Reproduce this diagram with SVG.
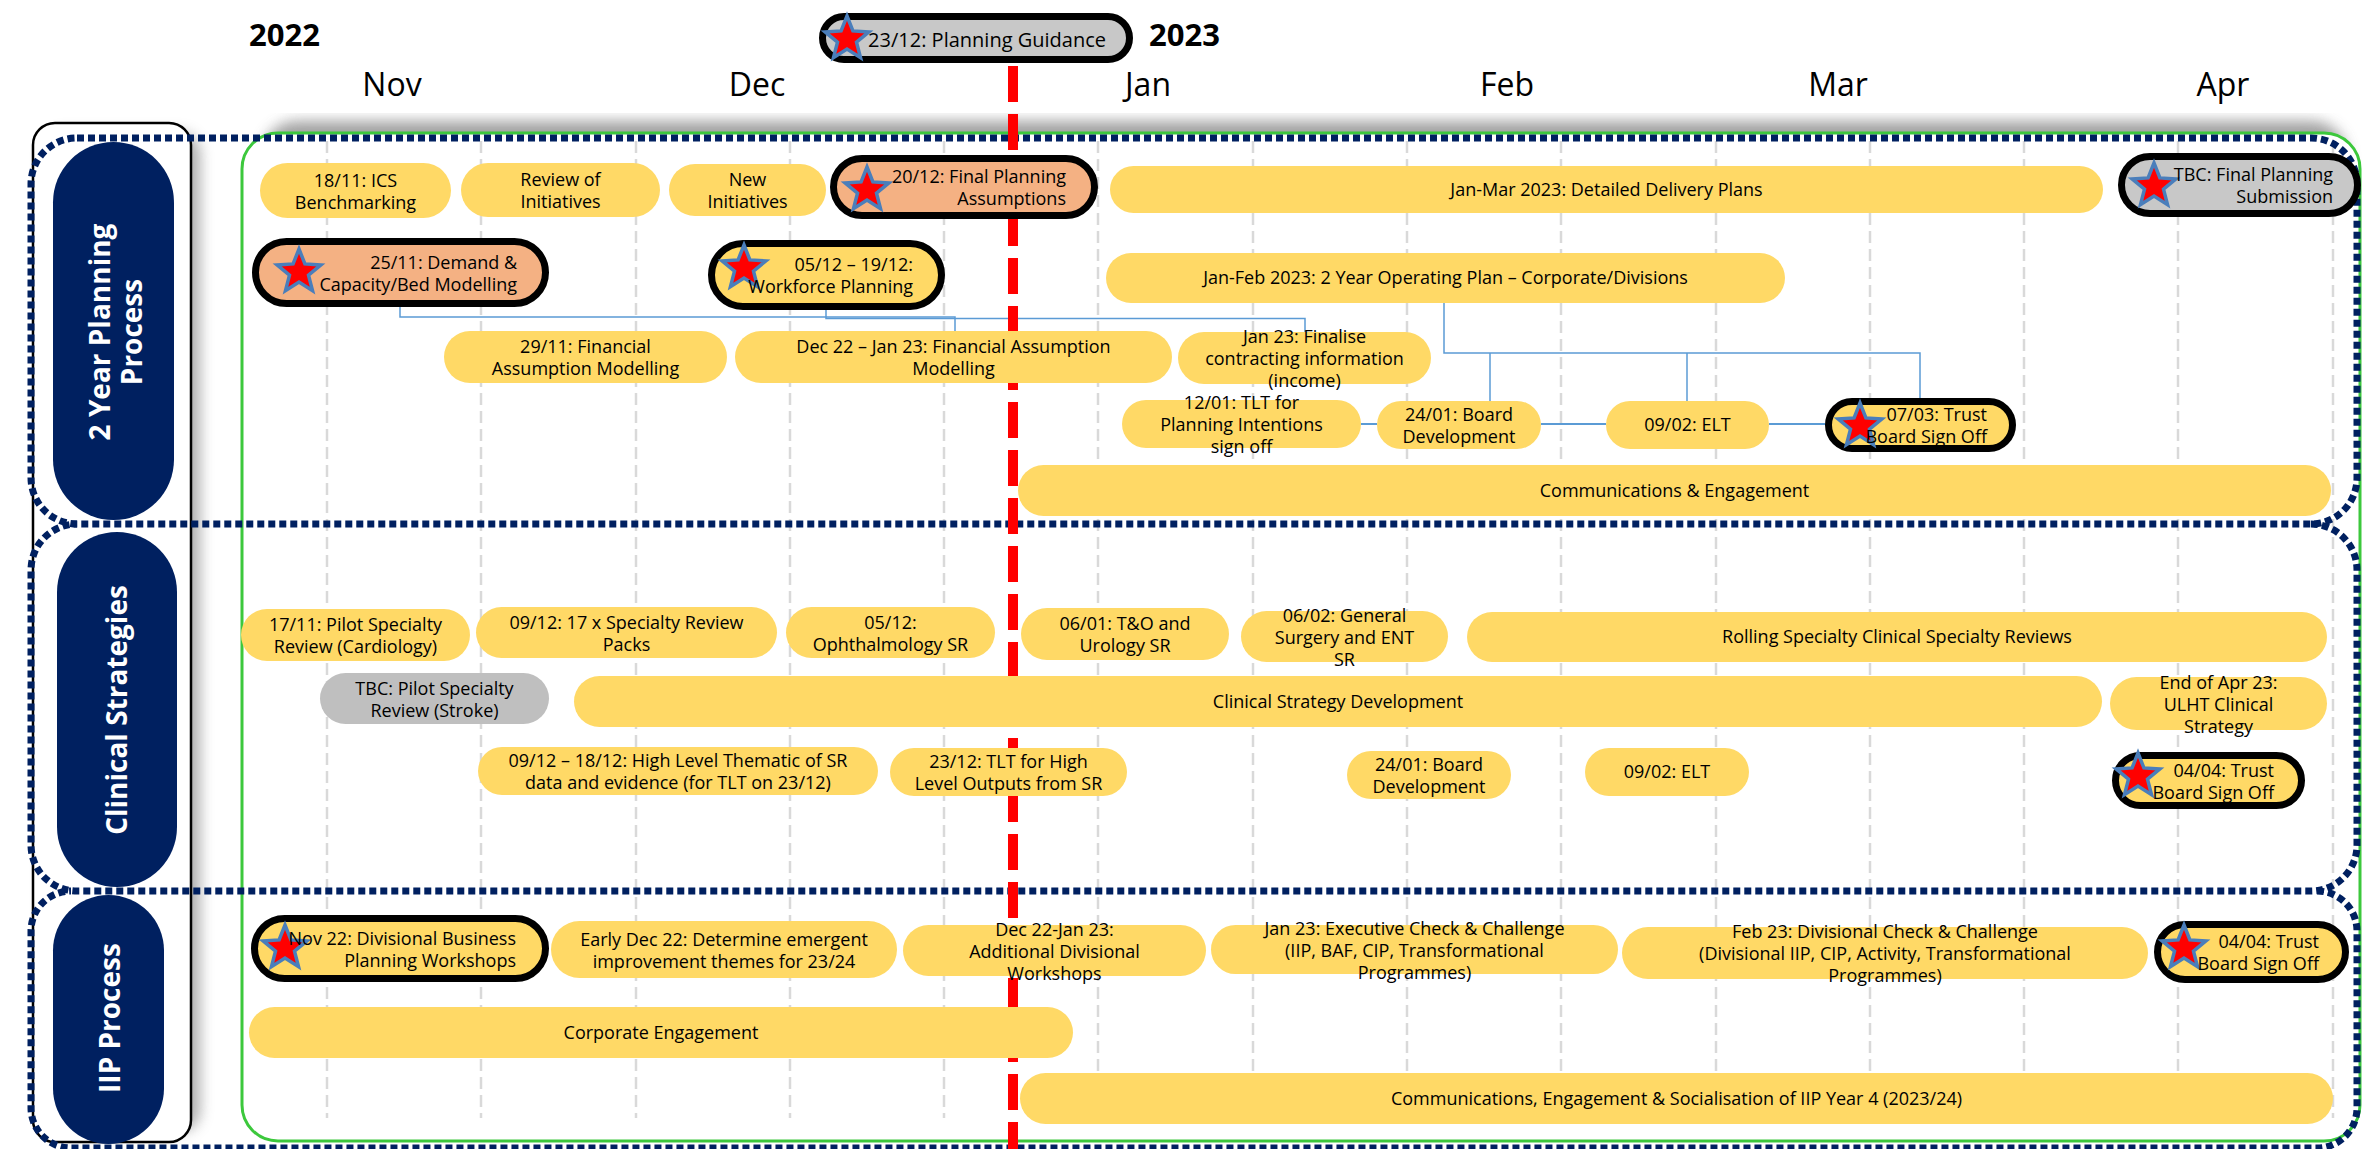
<svg xmlns="http://www.w3.org/2000/svg" xmlns:xlink="http://www.w3.org/1999/xlink" width="2364" height="1149" viewBox="0 0 2364 1149">
<defs>
<style>
.y{fill:#FFD966}
.g{fill:#BFBFBF}
.ys{fill:#FFD966;stroke:#000;stroke-width:7}
.os{fill:#F4B183;stroke:#000;stroke-width:7}
.gs{fill:#C8C8C8;stroke:#000;stroke-width:7}
.t{font-family:"Open Sans","Noto Sans",sans-serif;font-size:18px;fill:#000;text-anchor:middle}
.r{text-anchor:end}
.m{font-family:"Open Sans","Noto Sans",sans-serif;font-size:32px;fill:#000;text-anchor:middle}
.yr{font-family:"Open Sans","Noto Sans",sans-serif;font-size:31px;font-weight:bold;fill:#000}
.lbl{font-family:"Open Sans","Noto Sans",sans-serif;font-size:28px;font-weight:bold;fill:#fff;text-anchor:middle}
.pill{fill:#002060}
.sec{fill:none;stroke:#002060;stroke-width:7;stroke-dasharray:7 4}
.grid{stroke:#D9D9D9;stroke-width:2.5;stroke-dasharray:12 6}
.c{fill:none;stroke:#5B9BD5;stroke-width:1.5}
.c2{fill:none;stroke:#5B9BD5;stroke-width:2}
</style>
<path id="star" d="M0,-23 L5.9,-8.1 L21.87,-7.11 L9.5,3.1 L13.52,18.61 L0,10 L-13.52,18.61 L-9.5,3.1 L-21.87,-7.11 L-5.9,-8.1 Z" fill="#FF0000" stroke="#4A7EBB" stroke-width="3.5" stroke-linejoin="miter"/>
<filter id="blur" x="-10%" y="-10%" width="120%" height="120%"><feGaussianBlur stdDeviation="7"/></filter>
</defs>
<rect x="0" y="0" width="2364" height="1149" fill="#fff"/>

<g id="background">
<rect x="262" y="121" width="2085" height="80" rx="35" fill="#8a8a8a" opacity="0.8" filter="url(#blur)"/>
<rect x="44" y="132" width="156" height="1000" rx="22" fill="#8a8a8a" opacity="0.7" filter="url(#blur)"/>
<rect x="33" y="123" width="158" height="1019" rx="22" fill="#fff" stroke="#000" stroke-width="2.5"/>
<rect x="242" y="133" width="2118" height="1008" rx="36" fill="#fff" stroke="#3CC83C" stroke-width="3"/>
</g>

<g id="gridlines">
<line class="grid" x1="327" y1="141" x2="327" y2="1118"/>
<line class="grid" x1="481" y1="141" x2="481" y2="1118"/>
<line class="grid" x1="636" y1="141" x2="636" y2="1118"/>
<line class="grid" x1="790" y1="141" x2="790" y2="1118"/>
<line class="grid" x1="944" y1="141" x2="944" y2="1118"/>
<line class="grid" x1="1098" y1="141" x2="1098" y2="1118"/>
<line class="grid" x1="1253" y1="141" x2="1253" y2="1118"/>
<line class="grid" x1="1407" y1="141" x2="1407" y2="1118"/>
<line class="grid" x1="1561" y1="141" x2="1561" y2="1118"/>
<line class="grid" x1="1716" y1="141" x2="1716" y2="1118"/>
<line class="grid" x1="1870" y1="141" x2="1870" y2="1118"/>
<line class="grid" x1="2024" y1="141" x2="2024" y2="1118"/>
<line class="grid" x1="2178" y1="141" x2="2178" y2="1118"/>
<line class="grid" x1="2333" y1="141" x2="2333" y2="1118"/>
</g>

<g id="sections">
<rect class="sec" x="31" y="138" width="2326" height="386" rx="46"/>
<path class="sec" d="M2311,524 A46,46 0 0 1 2357,570 V845 A46,46 0 0 1 2311,891 H77 A46,46 0 0 1 31,845 V570 A46,46 0 0 1 77,524"/>
<path class="sec" d="M2317,891 A40,40 0 0 1 2357,931 V1108 A40,40 0 0 1 2317,1148 H71 A40,40 0 0 1 31,1108 V931 A40,40 0 0 1 71,891"/>
</g>

<g id="lane-2yr">
<rect class="pill" x="53" y="142" width="121" height="378" rx="60.5"/>
<text class="lbl" transform="translate(100,332) rotate(-90)" y="10">2 Year Planning</text>
<text class="lbl" transform="translate(132,332) rotate(-90)" y="10">Process</text>
</g>
<g id="lane-clinical">
<rect class="pill" x="57" y="532" width="120" height="355" rx="60"/>
<text class="lbl" transform="translate(117,710) rotate(-90)" y="10">Clinical Strategies</text>
</g>
<g id="lane-iip">
<rect class="pill" x="53" y="895" width="111" height="249" rx="55.5"/>
<text class="lbl" transform="translate(110,1018) rotate(-90)" y="10">IIP Process</text>
</g>

<g id="connectors">
<path class="c" d="M400,307 V317 H955 V331"/>
<path class="c" d="M826,310 V318.5 H1305 V332"/>
<path class="c" d="M1444,303 V353 H1920 V398"/>
<path class="c" d="M1490,353 V401"/>
<path class="c" d="M1687,353 V401"/>
<path class="c2" d="M1361,424 H1377"/>
<path class="c2" d="M1541,424 H1606"/>
<path class="c2" d="M1769,424 H1825"/>
</g>

<g id="today-line">
<line x1="1013" y1="66" x2="1013" y2="1149" stroke="#FF0000" stroke-width="10" stroke-dasharray="36 12"/>
</g>

<g id="header">
<text class="yr" x="249" y="46">2022</text>
<text class="yr" x="1149" y="46">2023</text>
<text class="m" x="392" y="96">Nov</text>
<text class="m" x="757" y="96">Dec</text>
<text class="m" x="1148" y="96">Jan</text>
<text class="m" x="1507" y="96">Feb</text>
<text class="m" x="1838" y="96">Mar</text>
<text class="m" x="2223" y="96">Apr</text>
</g>
<g id="planning-guidance">
<rect class="gs" x="822.5" y="16.5" width="307" height="43" rx="21.5"/>
<use href="#star" x="847" y="39"/>
<text class="t r" x="1106" y="47" style="font-size:20px">23/12: Planning Guidance</text>
</g>

<g id="n1"><rect class="y" x="260" y="163" width="191" height="55" rx="27.5"/><text class="t" x="355.5" y="186.5">18/11: ICS</text><text class="t" x="355.5" y="208.5">Benchmarking</text></g>
<g id="n2"><rect class="y" x="461" y="163" width="199" height="54" rx="27"/><text class="t" x="560.5" y="186">Review of</text><text class="t" x="560.5" y="208">Initiatives</text></g>
<g id="n3"><rect class="y" x="669" y="164" width="157" height="52" rx="26"/><text class="t" x="747.5" y="186">New</text><text class="t" x="747.5" y="208">Initiatives</text></g>
<g id="n4"><rect class="os" x="833.5" y="158.5" width="261" height="57" rx="28.5"/><use href="#star" x="867" y="190"/><text class="t r" x="1066" y="183">20/12: Final Planning</text><text class="t r" x="1066" y="205">Assumptions</text></g>
<g id="n5"><rect class="y" x="1110" y="166" width="993" height="47" rx="23.5"/><text class="t" x="1606.5" y="195.5">Jan-Mar 2023: Detailed Delivery Plans</text></g>
<g id="n6"><rect class="gs" x="2121.5" y="156.5" width="236" height="57" rx="28.5"/><use href="#star" x="2154" y="186"/><text class="t r" x="2333" y="181">TBC: Final Planning</text><text class="t r" x="2333" y="203">Submission</text></g>
<g id="n7"><rect class="os" x="255.5" y="241.5" width="290" height="62" rx="31"/><use href="#star" x="299" y="272"/><text class="t r" x="517" y="269">25/11: Demand &amp;</text><text class="t r" x="517" y="291">Capacity/Bed Modelling</text></g>
<g id="n8"><rect class="ys" x="711.5" y="243.5" width="230" height="63" rx="31.5"/><use href="#star" x="744" y="268"/><text class="t r" x="913" y="271">05/12 – 19/12:</text><text class="t r" x="913" y="293">Workforce Planning</text></g>
<g id="n9"><rect class="y" x="1106" y="253" width="679" height="50" rx="25"/><text class="t" x="1445.5" y="284">Jan-Feb 2023: 2 Year Operating Plan – Corporate/Divisions</text></g>
<g id="n10"><rect class="y" x="444" y="331" width="283" height="52" rx="26"/><text class="t" x="585.5" y="353">29/11: Financial</text><text class="t" x="585.5" y="375">Assumption Modelling</text></g>
<g id="n11"><rect class="y" x="735" y="331" width="437" height="52" rx="26"/><text class="t" x="953.5" y="353">Dec 22 – Jan 23: Financial Assumption</text><text class="t" x="953.5" y="375">Modelling</text></g>
<g id="n12"><rect class="y" x="1178" y="332" width="253" height="52" rx="26"/><text class="t" x="1304.5" y="343">Jan 23: Finalise</text><text class="t" x="1304.5" y="365">contracting information</text><text class="t" x="1304.5" y="387">(income)</text></g>
<g id="n13"><rect class="y" x="1122" y="400" width="239" height="48" rx="24"/><text class="t" x="1241.5" y="409">12/01: TLT for</text><text class="t" x="1241.5" y="431">Planning Intentions</text><text class="t" x="1241.5" y="453">sign off</text></g>
<g id="n14"><rect class="y" x="1377" y="401" width="164" height="48" rx="24"/><text class="t" x="1459" y="421">24/01: Board</text><text class="t" x="1459" y="443">Development</text></g>
<g id="n15"><rect class="y" x="1606" y="401" width="163" height="48" rx="24"/><text class="t" x="1687.5" y="431">09/02: ELT</text></g>
<g id="n16"><rect class="ys" x="1828.5" y="401.5" width="184" height="47" rx="23.5"/><use href="#star" x="1860" y="426"/><text class="t r" x="1987" y="421">07/03: Trust</text><text class="t r" x="1987" y="443">Board Sign Off</text></g>
<g id="n17"><rect class="y" x="1018" y="465" width="1313" height="51" rx="25.5"/><text class="t" x="1674.5" y="497">Communications &amp; Engagement</text></g>

<g id="n18"><rect class="y" x="241" y="609" width="229" height="52" rx="26"/><text class="t" x="355.5" y="631">17/11: Pilot Specialty</text><text class="t" x="355.5" y="653">Review (Cardiology)</text></g>
<g id="n19"><rect class="y" x="476" y="607" width="301" height="51" rx="25.5"/><text class="t" x="626.5" y="628.5">09/12: 17 x Specialty Review</text><text class="t" x="626.5" y="650.5">Packs</text></g>
<g id="n20"><rect class="y" x="786" y="607" width="209" height="51" rx="25.5"/><text class="t" x="890.5" y="628.5">05/12:</text><text class="t" x="890.5" y="650.5">Ophthalmology SR</text></g>
<g id="n21"><rect class="y" x="1021" y="608" width="208" height="52" rx="26"/><text class="t" x="1125" y="630">06/01: T&amp;O and</text><text class="t" x="1125" y="652">Urology SR</text></g>
<g id="n22"><rect class="y" x="1241" y="611" width="207" height="51" rx="25.5"/><text class="t" x="1344.5" y="621.5">06/02: General</text><text class="t" x="1344.5" y="643.5">Surgery and ENT</text><text class="t" x="1344.5" y="665.5">SR</text></g>
<g id="n23"><rect class="y" x="1467" y="612" width="860" height="50" rx="25"/><text class="t" x="1897" y="643">Rolling Specialty Clinical Specialty Reviews</text></g>
<g id="n24"><rect class="g" x="320" y="673" width="229" height="51" rx="25.5"/><text class="t" x="434.5" y="694.5">TBC: Pilot Specialty</text><text class="t" x="434.5" y="716.5">Review (Stroke)</text></g>
<g id="n25"><rect class="y" x="574" y="676" width="1528" height="51" rx="25.5"/><text class="t" x="1338" y="707.5">Clinical Strategy Development</text></g>
<g id="n26"><rect class="y" x="2110" y="677" width="217" height="53" rx="26.5"/><text class="t" x="2218.5" y="688.5">End of Apr 23:</text><text class="t" x="2218.5" y="710.5">ULHT Clinical</text><text class="t" x="2218.5" y="732.5">Strategy</text></g>
<g id="n27"><rect class="y" x="478" y="747" width="400" height="48" rx="24"/><text class="t" x="678" y="767">09/12 – 18/12: High Level Thematic of SR</text><text class="t" x="678" y="789">data and evidence (for TLT on 23/12)</text></g>
<g id="n28"><rect class="y" x="890" y="748" width="237" height="48" rx="24"/><text class="t" x="1008.5" y="768">23/12: TLT for High</text><text class="t" x="1008.5" y="790">Level Outputs from SR</text></g>
<g id="n29"><rect class="y" x="1347" y="751" width="164" height="48" rx="24"/><text class="t" x="1429" y="771">24/01: Board</text><text class="t" x="1429" y="793">Development</text></g>
<g id="n30"><rect class="y" x="1585" y="748" width="164" height="48" rx="24"/><text class="t" x="1667" y="778">09/02: ELT</text></g>
<g id="n31"><rect class="ys" x="2115.5" y="755.5" width="186" height="50" rx="25"/><use href="#star" x="2138" y="776"/><text class="t r" x="2274" y="776.5">04/04: Trust</text><text class="t r" x="2274" y="798.5">Board Sign Off</text></g>

<g id="n32"><rect class="ys" x="254.5" y="918.5" width="291" height="60" rx="30"/><use href="#star" x="285" y="948"/><text class="t r" x="516" y="944.5">Nov 22: Divisional Business</text><text class="t r" x="516" y="966.5">Planning Workshops</text></g>
<g id="n33"><rect class="y" x="551" y="921" width="346" height="57" rx="28.5"/><text class="t" x="724" y="945.5">Early Dec 22: Determine emergent</text><text class="t" x="724" y="967.5">improvement themes for 23/24</text></g>
<g id="n34"><rect class="y" x="903" y="925" width="303" height="51" rx="25.5"/><text class="t" x="1054.5" y="935.5">Dec 22-Jan 23:</text><text class="t" x="1054.5" y="957.5">Additional Divisional</text><text class="t" x="1054.5" y="979.5">Workshops</text></g>
<g id="n35"><rect class="y" x="1211" y="925" width="407" height="49" rx="24.5"/><text class="t" x="1414.5" y="934.5">Jan 23: Executive Check &amp; Challenge</text><text class="t" x="1414.5" y="956.5">(IIP, BAF, CIP, Transformational</text><text class="t" x="1414.5" y="978.5">Programmes)</text></g>
<g id="n36"><rect class="y" x="1622" y="927" width="526" height="52" rx="26"/><text class="t" x="1885" y="938">Feb 23: Divisional Check &amp; Challenge</text><text class="t" x="1885" y="960">(Divisional IIP, CIP, Activity, Transformational</text><text class="t" x="1885" y="982">Programmes)</text></g>
<g id="n37"><rect class="ys" x="2157.5" y="924.5" width="188" height="55" rx="27.5"/><use href="#star" x="2184" y="948"/><text class="t r" x="2319" y="948">04/04: Trust</text><text class="t r" x="2319" y="970">Board Sign Off</text></g>
<g id="n38"><rect class="y" x="249" y="1007" width="824" height="51" rx="25.5"/><text class="t" x="661" y="1038.5">Corporate Engagement</text></g>
<g id="n39"><rect class="y" x="1020" y="1073" width="1313" height="51" rx="25.5"/><text class="t" x="1676.5" y="1104.5">Communications, Engagement &amp; Socialisation of IIP Year 4 (2023/24)</text></g>
</svg>
